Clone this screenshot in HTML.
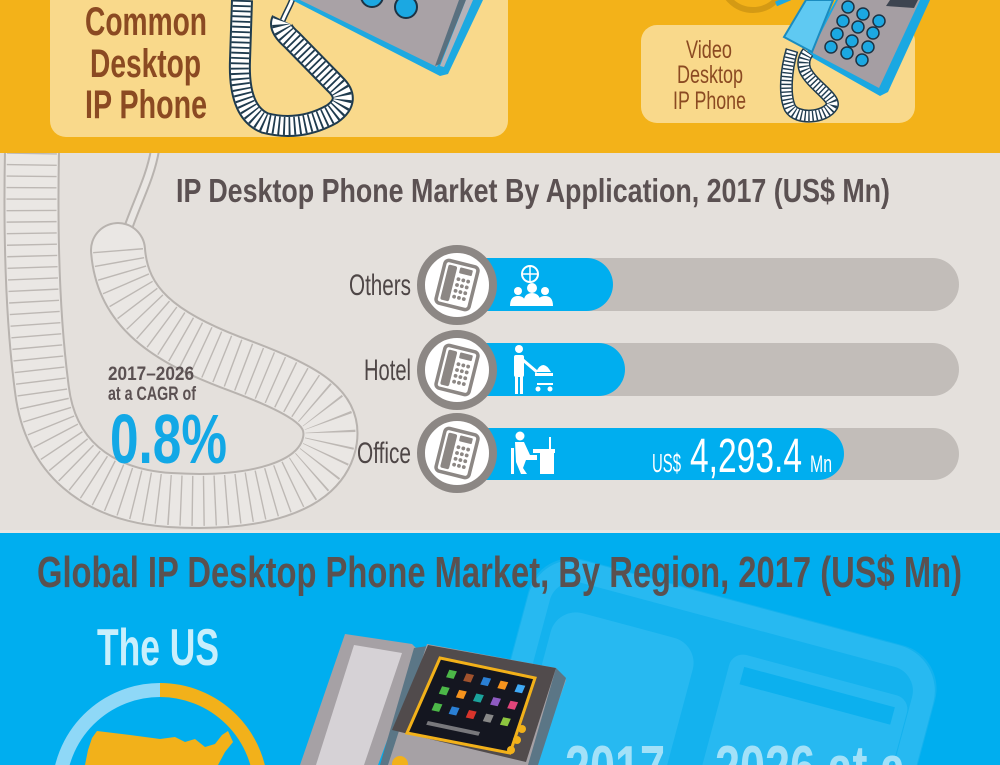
<!DOCTYPE html>
<html><head><meta charset="utf-8">
<style>
html,body{margin:0;padding:0;background:#00AEEF;width:1000px;height:765px;overflow:hidden;}
svg{display:block;overflow:hidden;}
text{font-family:"Liberation Sans Narrow","Liberation Sans",sans-serif;font-weight:700;}
</style></head>
<body>
<svg width="1000" height="765" viewBox="0 0 1000 765" xmlns="http://www.w3.org/2000/svg">
<defs>
  <clipPath id="pg"><rect x="0" y="0" width="1000" height="765"/></clipPath>
  <g id="phicon">
    <circle cx="0" cy="0" r="36" fill="#ffffff" stroke="#8C8784" stroke-width="8"/>
    <g transform="rotate(14)">
      <rect x="-17" y="-22" width="34" height="44" rx="4" fill="#fff" stroke="#8C8784" stroke-width="3.5"/>
      <rect x="-13" y="-18" width="9" height="36" rx="2" fill="#8C8784"/>
      <rect x="-1" y="-18" width="13" height="6" rx="1" fill="#8C8784"/>
      <g fill="#8C8784">
        <circle cx="0" cy="-6" r="1.9"/><circle cx="5" cy="-6" r="1.9"/><circle cx="10" cy="-6" r="1.9"/>
        <circle cx="0" cy="0" r="1.9"/><circle cx="5" cy="0" r="1.9"/><circle cx="10" cy="0" r="1.9"/>
        <circle cx="0" cy="6" r="1.9"/><circle cx="5" cy="6" r="1.9"/><circle cx="10" cy="6" r="1.9"/>
        <circle cx="0" cy="12" r="1.9"/><circle cx="5" cy="12" r="1.9"/><circle cx="10" cy="12" r="1.9"/>
      </g>
    </g>
  </g>
</defs>
<g clip-path="url(#pg)">
<!-- ===== BLUE BOTTOM SECTION ===== -->
<rect x="0" y="0" width="1000" height="765" fill="#00AEEF"/>
<g transform="translate(540,548) rotate(15)">
  <rect x="0" y="0" width="421" height="430" rx="45" fill="#14B2EE"/>
  <rect x="12" y="12" width="397" height="406" rx="36" fill="none" stroke="#27B9F1" stroke-width="22"/>
  <rect x="32" y="52" width="147" height="300" rx="26" fill="#27B9F1"/>
  <rect x="213" y="50" width="184" height="300" rx="14" fill="#27B9F1"/>
  <rect x="228" y="62" width="156" height="18" fill="#0CB0EE"/>
</g>

<text x="37" y="587" font-size="44" fill="#5A5150" textLength="925" lengthAdjust="spacingAndGlyphs">Global IP Desktop Phone Market, By Region, 2017 (US$ Mn)</text>
<text x="97" y="665" font-size="52" fill="#C9EFFC" textLength="122" lengthAdjust="spacingAndGlyphs">The US</text>

<!-- ring -->
<path d="M160 690 A101 101 0 0 0 59 791" fill="none" stroke="#8FD8F7" stroke-width="14"/>
<path d="M160 690 A101 101 0 0 1 261 791" fill="none" stroke="#F2B11A" stroke-width="14"/>
<!-- US map -->
<polygon points="97,731 130,735 160,739 175,737 185,742 195,739 205,747 215,744 222,735 228,731 233,742 225,752 218,765 85,765 88,750 92,738" fill="#F2B11A"/>

<!-- phone in blue section -->
<polygon points="345,634 412,644 420,652 378,765 300,765" fill="#A6A1A5"/>
<polygon points="354,645 402,653 364,765 316,765" fill="#D6D2D6"/>
<polygon points="414,648 428,646 395,765 380,765" fill="#5B7686"/>
<polygon points="427,644 556,668 566,680 536,765 388,765" fill="#A6A1A5"/>
<polygon points="556,668 566,678 538,765 528,765" fill="#5B7686"/>
<polygon points="428,645 556,668 526,762 392,730" fill="#514B4C"/>
<polygon points="440,658 535,678 510,753 407,733" fill="#141620" stroke="#F2B11A" stroke-width="3"/>
<g transform="matrix(95,20,-33,75,440,658)">
  <rect x="0.14" y="0.12" width="0.08" height="0.1" fill="#4CB848"/>
  <rect x="0.32" y="0.12" width="0.08" height="0.1" fill="#A0522D"/>
  <rect x="0.5" y="0.12" width="0.08" height="0.1" fill="#2A7FD4"/>
  <rect x="0.68" y="0.12" width="0.08" height="0.1" fill="#F7941D"/>
  <rect x="0.86" y="0.12" width="0.08" height="0.1" fill="#3FA9F5"/>
  <rect x="0.14" y="0.34" width="0.08" height="0.1" fill="#4CB848"/>
  <rect x="0.32" y="0.34" width="0.08" height="0.1" fill="#F7941D"/>
  <rect x="0.5" y="0.34" width="0.08" height="0.1" fill="#1BA39C"/>
  <rect x="0.68" y="0.34" width="0.08" height="0.1" fill="#8E5BC2"/>
  <rect x="0.86" y="0.34" width="0.08" height="0.1" fill="#E2457A"/>
  <rect x="0.14" y="0.56" width="0.08" height="0.1" fill="#4CB848"/>
  <rect x="0.32" y="0.56" width="0.08" height="0.1" fill="#2A7FD4"/>
  <rect x="0.5" y="0.56" width="0.08" height="0.1" fill="#D9342B"/>
  <rect x="0.68" y="0.56" width="0.08" height="0.1" fill="#888888"/>
  <rect x="0.86" y="0.56" width="0.08" height="0.1" fill="#8DC63F"/>
  <rect x="0.15" y="0.8" width="0.55" height="0.05" fill="#bbbbbb" opacity="0.6"/>
</g>
<circle cx="522" cy="729" r="4" fill="#F2B11A"/>
<circle cx="517" cy="740" r="4" fill="#F2B11A"/>
<circle cx="511" cy="750" r="4" fill="#F2B11A"/>
<circle cx="400" cy="764" r="8" fill="#F2B11A"/>

<text x="565" y="789" font-size="62" fill="#A3E1F8" textLength="340" lengthAdjust="spacingAndGlyphs">2017 – 2026 at a</text>

<!-- ===== MIDDLE SECTION ===== -->
<rect x="0" y="150" width="1000" height="380" fill="#E4E0DC"/>
<rect x="0" y="530" width="1000" height="3" fill="#E8E6E3"/>

<!-- big gray coil -->
<path d="M124 240 C135 205,150 180,155 150" fill="none" stroke="#B8B3AF" stroke-width="10"/>
<path d="M124 240 C135 205,150 180,155 150" fill="none" stroke="#EAE7E4" stroke-width="6"/>
<g fill="none">
  <path d="M118 250 C122 305,160 335,230 362 C300 388,335 405,330 440 C322 490,250 505,170 500 C95 495,50 455,42 390 C34 330,30 250,32 150" stroke="#B8B3AF" stroke-width="56" stroke-linecap="round"/>
  <path d="M118 250 C122 305,160 335,230 362 C300 388,335 405,330 440 C322 490,250 505,170 500 C95 495,50 455,42 390 C34 330,30 250,32 150" stroke="#EAE7E4" stroke-width="52" stroke-linecap="round"/>
  <path d="M118 250 C122 305,160 335,230 362 C300 388,335 405,330 440 C322 490,250 505,170 500 C95 495,50 455,42 390 C34 330,30 250,32 150" stroke="#BDB8B4" stroke-width="50" stroke-dasharray="1.4 10"/>
</g>

<text x="176" y="202" font-size="33" fill="#5B5152" textLength="714" lengthAdjust="spacingAndGlyphs">IP Desktop Phone Market By Application, 2017 (US$ Mn)</text>

<text x="108" y="380" font-size="19" fill="#5B5152" textLength="86" lengthAdjust="spacingAndGlyphs">2017–2026</text>
<text x="108" y="400" font-size="19" fill="#5B5152" textLength="88" lengthAdjust="spacingAndGlyphs">at a CAGR of</text>
<text x="110" y="463" font-size="70" fill="#12A8E6" textLength="117" lengthAdjust="spacingAndGlyphs">0.8%</text>

<!-- bars -->
<rect x="470" y="258" width="489" height="53" rx="26.5" fill="#C2BDB9"/>
<rect x="440" y="258" width="173" height="53" rx="26.5" fill="#00AEEF"/>
<rect x="470" y="343" width="489" height="53" rx="26.5" fill="#C2BDB9"/>
<rect x="440" y="343" width="185" height="53" rx="26.5" fill="#00AEEF"/>
<rect x="470" y="428" width="489" height="52" rx="26" fill="#C2BDB9"/>
<rect x="440" y="428" width="404" height="52" rx="26" fill="#00AEEF"/>

<use href="#phicon" x="457" y="285"/>
<use href="#phicon" x="457" y="370"/>
<use href="#phicon" x="457" y="453"/>

<text x="349" y="295" font-size="30" fill="#4E4646" textLength="62" lengthAdjust="spacingAndGlyphs" style="font-weight:400">Others</text>
<text x="364" y="380" font-size="30" fill="#4E4646" textLength="47" lengthAdjust="spacingAndGlyphs" style="font-weight:400">Hotel</text>
<text x="357" y="463" font-size="30" fill="#4E4646" textLength="54" lengthAdjust="spacingAndGlyphs" style="font-weight:400">Office</text>

<!-- Others icon -->
<g fill="#fff">
  <circle cx="530" cy="274" r="8" fill="none" stroke="#fff" stroke-width="2"/>
  <line x1="522" y1="274" x2="538" y2="274" stroke="#fff" stroke-width="1.5"/>
  <line x1="530" y1="266" x2="530" y2="282" stroke="#fff" stroke-width="1.5"/>
  <circle cx="518" cy="291" r="4"/><circle cx="532" cy="288" r="5"/><circle cx="545" cy="291" r="4"/>
  <path d="M510 306 Q510 296 518 296 Q526 296 526 306 Z"/>
  <path d="M523 306 Q523 293 532 293 Q541 293 541 306 Z"/>
  <path d="M537 306 Q537 296 545 296 Q553 296 553 306 Z"/>
</g>
<!-- Hotel icon -->
<g fill="#fff">
  <circle cx="519" cy="349" r="4"/>
  <rect x="514" y="355" width="10" height="22" rx="2"/>
  <rect x="515" y="376" width="3" height="18"/><rect x="520" y="376" width="3" height="18"/>
  <line x1="523" y1="360" x2="537" y2="372" stroke="#fff" stroke-width="3"/>
  <path d="M536 372 Q543 358 551 372 Z"/>
  <rect x="535" y="373" width="18" height="3"/>
  <rect x="537" y="383" width="16" height="2"/>
  <circle cx="538" cy="389" r="2.5"/><circle cx="550" cy="389" r="2.5"/>
</g>
<!-- Office icon -->
<g fill="#fff">
  <circle cx="520" cy="436" r="4.5"/>
  <path d="M515 442 L524 442 L530 455 L537 455 L537 460 L526 460 L523 468 L527 474 L521 474 L516 462 Z"/>
  <rect x="511" y="448" width="3" height="26"/>
  <rect x="533" y="449" width="22" height="4"/>
  <rect x="540" y="453" width="14" height="21"/>
  <rect x="549" y="437" width="2" height="12"/>
</g>

<text x="652" y="472" font-size="26" fill="#ffffff" textLength="29" lengthAdjust="spacingAndGlyphs" style="font-weight:400">US$</text>
<text x="690" y="472" font-size="48" fill="#ffffff" textLength="112" lengthAdjust="spacingAndGlyphs" style="font-weight:400">4,293.4</text>
<text x="810" y="472" font-size="24" fill="#ffffff" textLength="22" lengthAdjust="spacingAndGlyphs" style="font-weight:400">Mn</text>

<!-- ===== TOP YELLOW SECTION ===== -->
<rect x="0" y="0" width="1000" height="153" fill="#F3B219"/>
<rect x="50" y="-30" width="458" height="167" rx="16" fill="#F9D98B"/>
<rect x="641" y="25" width="274" height="98" rx="16" fill="#F9D98B"/>

<text x="85" y="35" font-size="40" fill="#8B4A22" textLength="122" lengthAdjust="spacingAndGlyphs">Common</text>
<text x="90" y="77" font-size="40" fill="#8B4A22" textLength="111" lengthAdjust="spacingAndGlyphs">Desktop</text>
<text x="85" y="118" font-size="40" fill="#8B4A22" textLength="122" lengthAdjust="spacingAndGlyphs">IP Phone</text>

<text x="686" y="58" font-size="25" fill="#8B4A22" textLength="46" lengthAdjust="spacingAndGlyphs" style="font-weight:400">Video</text>
<text x="677" y="83" font-size="25" fill="#8B4A22" textLength="66" lengthAdjust="spacingAndGlyphs" style="font-weight:400">Desktop</text>
<text x="673" y="109" font-size="25" fill="#8B4A22" textLength="73" lengthAdjust="spacingAndGlyphs" style="font-weight:400">IP Phone</text>

<!-- top-left phone -->
<polygon points="292,0 440,76 448,74 483,0" fill="#1DA9E1"/>
<polygon points="300,0 437,67 466,0" fill="#A9A2A6"/>
<polygon points="459,0 466,0 440,64 435,66" fill="#59707F"/>
<polygon points="466,0 473,0 444,67 440,66" fill="#B5B2B8"/>
<circle cx="372" cy="-4" r="11" fill="#1BA8E2" stroke="#1C3344" stroke-width="2"/>
<circle cx="406" cy="7" r="11" fill="#1BA8E2" stroke="#1C3344" stroke-width="2"/>

<!-- top-left coil -->
<path d="M282 22 C286 12,290 6,292 0" fill="none" stroke="#1F3B4E" stroke-width="6"/>
<path d="M282 22 C286 12,290 6,292 0" fill="none" stroke="#fff" stroke-width="3"/>
<g fill="none">
  <path d="M242 0 L240 60 Q238 112 265 123 Q300 132 332 114 Q352 100 335 84 L292 40 Q278 28 282 20" stroke="#1F3B4E" stroke-width="22"/>
  <path d="M242 0 L240 60 Q238 112 265 123 Q300 132 332 114 Q352 100 335 84 L292 40 Q278 28 282 20" stroke="#ffffff" stroke-width="18"/>
  <path d="M242 0 L240 60 Q238 112 265 123 Q300 132 332 114 Q352 100 335 84 L292 40 Q278 28 282 20" stroke="#1F3B4E" stroke-width="18" stroke-dasharray="1.8 3.4"/>
</g>

<!-- gold ring at top -->
<circle cx="753" cy="-22" r="32" fill="none" stroke="#D49A14" stroke-width="6"/>
<path d="M776 4 L790 -2" stroke="#1DA9E1" stroke-width="5"/>

<!-- top-right phone -->
<polygon points="836,0 806,54 880,96 888,92 930,0" fill="#1AA8E2"/>
<polygon points="838,0 811,52 879,88 920,0" fill="#A59EA3"/>
<polygon points="890,0 918,0 914,8 886,6" fill="#3D4450"/>
<polygon points="806,0 784,37 812,52 833,0" fill="#5FC9F2" stroke="#1A8CC0" stroke-width="2"/>
<g fill="#1BA8E2" stroke="#1C3344" stroke-width="1.5">
  <circle cx="848" cy="7" r="6"/><circle cx="863" cy="14" r="6"/><circle cx="879" cy="21" r="6"/>
  <circle cx="843" cy="21" r="6"/><circle cx="858" cy="27" r="6"/><circle cx="873" cy="33" r="6"/>
  <circle cx="837" cy="34" r="6"/><circle cx="852" cy="41" r="6"/><circle cx="868" cy="47" r="6"/>
  <circle cx="831" cy="47" r="6"/><circle cx="847" cy="53" r="6"/><circle cx="862" cy="60" r="6"/>
</g>
<!-- top-right coil -->
<g fill="none">
  <path d="M792 50 C786 70,784 95,790 108 C797 120,825 118,832 106 C836 98,812 85,805 70 C802 62,805 56,808 52" stroke="#1F3B4E" stroke-width="13"/>
  <path d="M792 50 C786 70,784 95,790 108 C797 120,825 118,832 106 C836 98,812 85,805 70 C802 62,805 56,808 52" stroke="#ffffff" stroke-width="10"/>
  <path d="M792 50 C786 70,784 95,790 108 C797 120,825 118,832 106 C836 98,812 85,805 70 C802 62,805 56,808 52" stroke="#1F3B4E" stroke-width="10" stroke-dasharray="1.4 2.4"/>
</g>
</g>
</svg>
</body></html>
